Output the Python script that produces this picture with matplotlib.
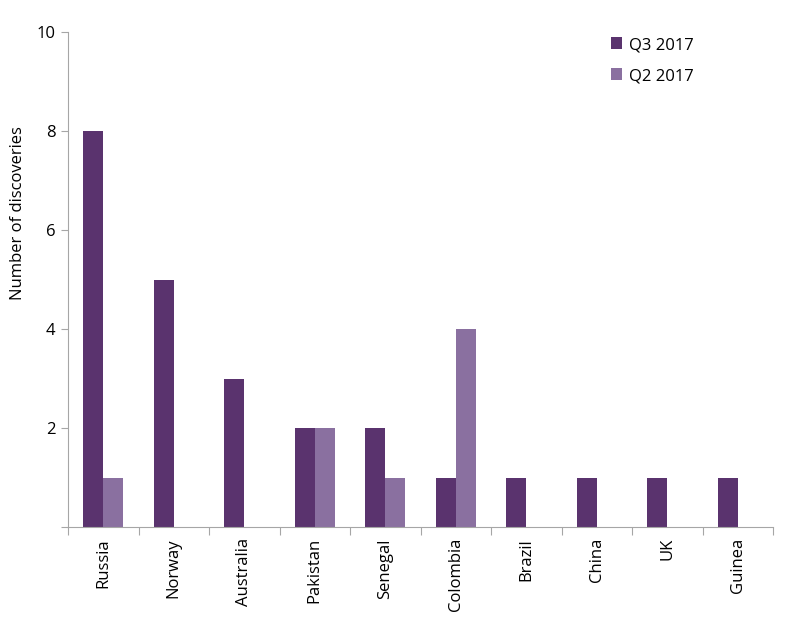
import matplotlib
matplotlib.use("Agg")
from matplotlib import pyplot as plt
import numpy as np

countries = ['Russia', 'Norway', 'Australia', 'Pakistan', 'Senegal',
             'Colombia', 'Brazil', 'China', 'UK', 'Guinea']
q3_2017 = [8, 5, 3, 2, 2, 1, 1, 1, 1, 1]
q2_2017 = [1, 0, 0, 2, 1, 4, 0, 0, 0, 0]

DARK = '#5a336e'
LIGHT = '#8a70a0'
GREY = '#a6a6a6'

plt.rcParams['font.family'] = ['Open Sans', 'DejaVu Sans']

fig = plt.figure(figsize=(8, 6.24), dpi=100)
ax = fig.add_axes([68/800, 1 - 527/624, 705/800, 495/624])

x = np.arange(len(countries))
w = 0.285
ax.bar(x - w/2, q3_2017, w, color=DARK, label='Q3 2017')
ax.bar(x + w/2, q2_2017, w, color=LIGHT, label='Q2 2017')

ax.set_xlim(-0.5, len(countries) - 0.5)
ax.set_ylim(0, 10)
ax.set_yticks([0, 2, 4, 6, 8, 10])
ax.set_yticklabels(['', '2', '4', '6', '8', '10'], fontsize=12)

# category labels centred, ticks on the boundaries
ax.set_xticks(np.arange(len(countries) + 1) - 0.5)
ax.set_xticklabels([])
ax.set_xticks(x, minor=True)
ax.set_xticklabels(countries, minor=True, rotation=90, fontsize=12)
ax.tick_params(axis='x', which='minor', length=0, pad=8)
ax.tick_params(axis='x', which='major', length=6, color=GREY)
ax.tick_params(axis='y', length=5, color=GREY, pad=4)

for s in ['top', 'right']:
    ax.spines[s].set_visible(False)
for s in ['left', 'bottom']:
    ax.spines[s].set_color(GREY)

ax.set_ylabel('Number of discoveries', fontsize=12)
ax.yaxis.set_label_coords(-0.059, 0.634)

ax.legend(loc='upper right', bbox_to_anchor=(0.909, 1.02), frameon=False,
          fontsize=12, handlelength=0.7, handleheight=0.7, handletextpad=0.4,
          labelspacing=0.9)

fig.savefig('out.png', dpi=100)
